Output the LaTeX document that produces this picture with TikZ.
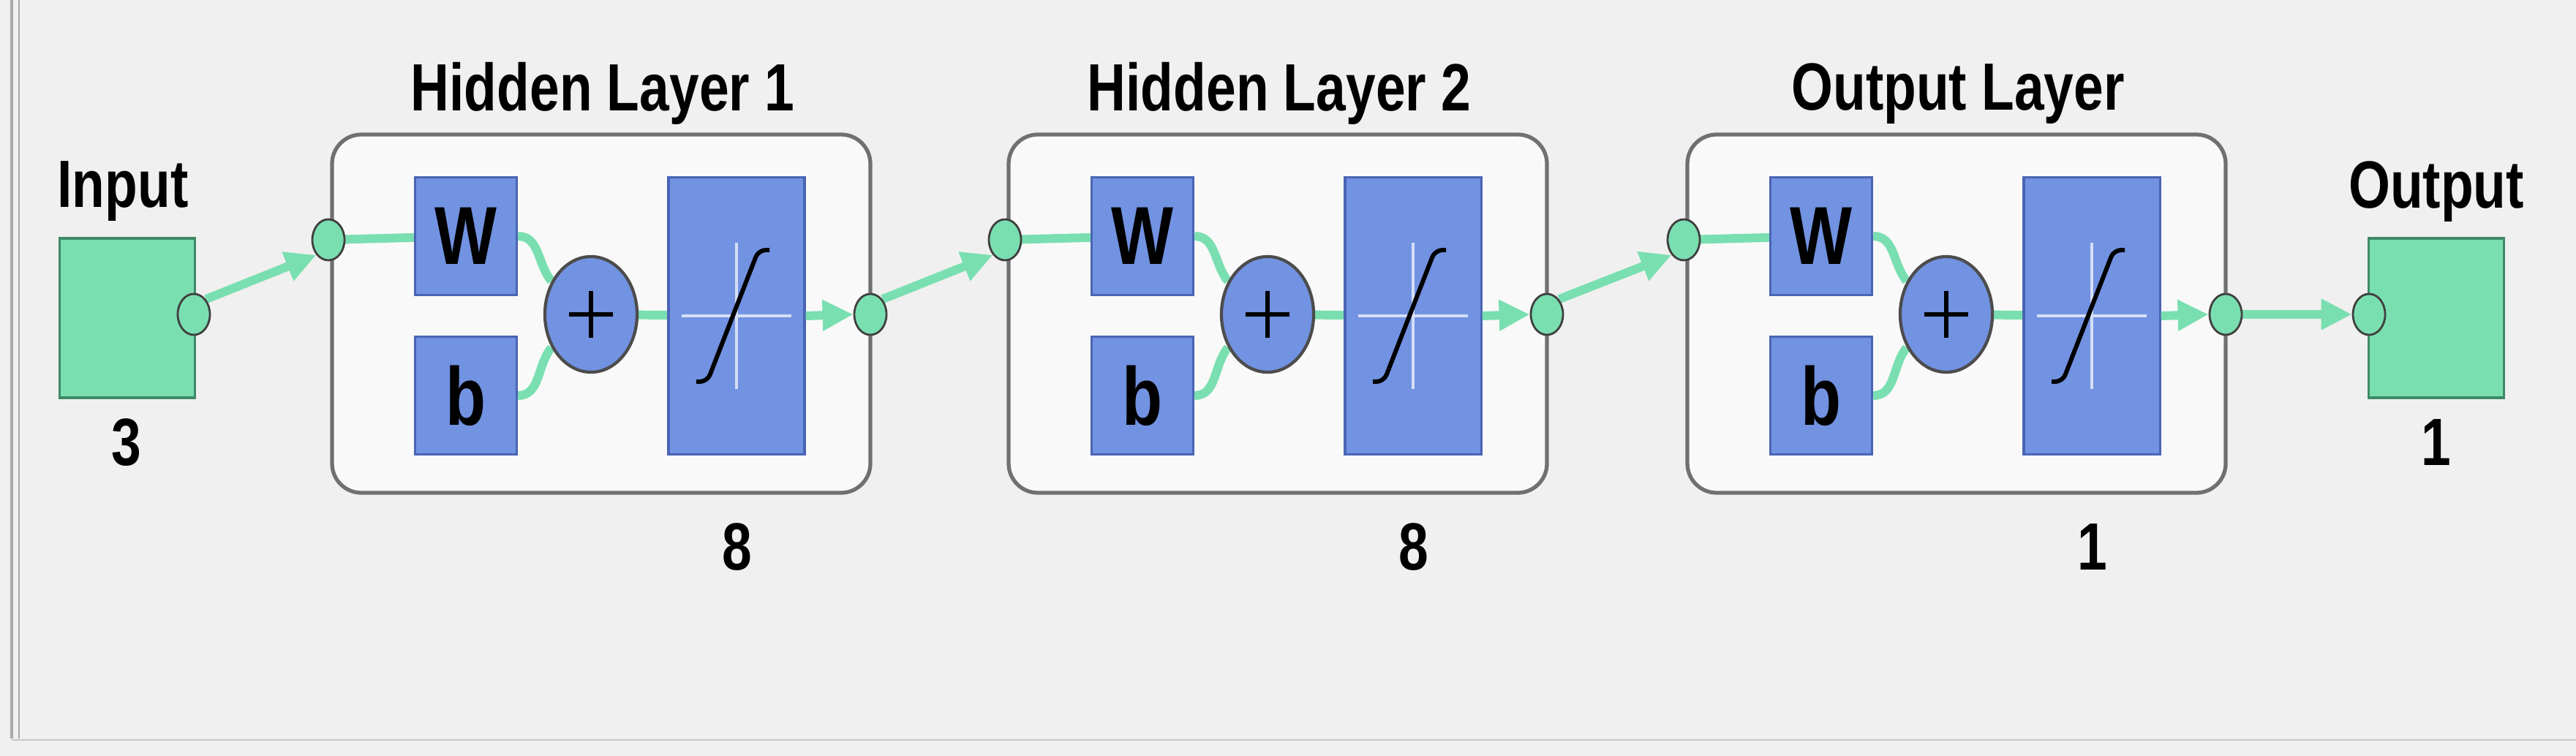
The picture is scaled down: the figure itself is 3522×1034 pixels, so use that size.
\documentclass[tikz,border=0pt]{standalone}
\usepackage{fontspec}
\newfontfamily\lbl{Liberation Sans}[FakeStretch=0.8]
\usetikzlibrary{arrows.meta,shapes.geometric,backgrounds}
\definecolor{bg}{HTML}{F0F0F0}
\definecolor{gfill}{HTML}{7ADFB0}
\definecolor{gdark}{HTML}{3E8A66}
\definecolor{bfill}{HTML}{7292E2}
\definecolor{bdark}{HTML}{4A64B4}
\definecolor{frame}{HTML}{707070}
\begin{document}
\begin{tikzpicture}[x=0.01cm,y=-0.01cm,
  txt/.style={font=\lbl\fontsize{26}{30}\selectfont\bfseries,text=black,inner sep=0},
  blk/.style={draw=bdark,line width=0.9pt,fill=bfill,inner sep=0},
  junc/.style={ellipse,draw=black!75,line width=0.8pt,fill=gfill,minimum width=0.44cm,minimum height=0.56cm,inner sep=0},
  wire/.style={draw=gfill,line width=3.4pt},
  arr/.style={wire,-{Triangle[length=0.42cm,width=0.4cm,fill=gfill]}},
  lay/.style={draw=frame,line width=1.5pt,rounded corners=0.4cm,fill=white!60!bg}]
\useasboundingbox (0,0) rectangle (3522,1034);
\begin{scope}[on background layer]
\fill[bg] (0,0) rectangle (3522,1034);
\draw[frame!60,line width=1pt] (16,0) -- (16,1010);
\draw[frame!60,line width=0.6pt] (26,0) -- (26,1010);
\draw[frame!40,line width=0.6pt] (16,1012) -- (3522,1012);
\foreach \dx in {0,925,1853}{\draw[lay,xshift=\dx*0.01cm] (454,184) rectangle (1190,674);}
\end{scope}
% input / output
\node[draw=gdark,line width=0.9pt,fill=gfill,minimum width=1.85cm,minimum height=2.18cm,inner sep=0] (inbox) at (174,435) {};
\node[txt] (inlbl) at (168,262) {Input};
\node[txt] (in3) at (173,605) {3};
\node[junc] (inc) at (265,430) {};
\node[draw=gdark,line width=0.9pt,fill=gfill,minimum width=1.85cm,minimum height=2.18cm,inner sep=0] (outbox) at (3331,435) {};
\node[txt] (outlbl) at (3331,262) {Output};
\node[txt] (out1) at (3331,605) {1};
\node[junc] (outc) at (3239,430) {};
\foreach \i/\dx/\t/\n in {1/0/Hidden Layer 1/8,2/925/Hidden Layer 2/8,3/1853/Output Layer/1}{
  \begin{scope}[xshift=\dx*0.01cm]
  \node[txt] (t\i) at (824,128) {\t};
  \node[txt] (n\i) at (1008,748) {\n};
  \node[blk,minimum width=1.39cm,minimum height=1.61cm] (W\i) at (637,323) {\lbl\fontsize{32}{36}\selectfont\bfseries W};
  \node[blk,minimum width=1.39cm,minimum height=1.61cm] (b\i) at (637,541) {\lbl\fontsize{32}{36}\selectfont\bfseries b};
  \node[blk,ellipse,minimum width=1.26cm,minimum height=1.58cm,line width=1.2pt,draw=black!70] (p\i) at (808,430) {};
  \draw[line width=1.7pt] (p\i.center) ++(-30,0) -- ++(60,0) (p\i.center) ++(0,-32) -- ++(0,64);
  \node[blk,minimum width=1.86cm,minimum height=3.79cm] (s\i) at (1007,432) {};
  \draw[white!70!bfill,line width=0.9pt] (s\i.center) ++(-75,0) -- ++(150,0) (s\i.center) ++(0,-100) -- ++(0,200);
  \draw[line width=1.7pt,rounded corners=0.1cm] (s\i.center) ++(-55,90) -- ++(15,0) -- ++(70,-180) -- ++(15,0);
  \node[junc] (ji\i) at (449,328) {};
  \node[junc] (jo\i) at (1190,430) {};
  \end{scope}
  \begin{scope}[on background layer]
  \draw[wire] (ji\i.center) -- (W\i.center);
  \draw[wire] (W\i.east) to[out=0,in=130] (p\i.140);
  \draw[wire] (b\i.east) to[out=0,in=-130] (p\i.-140);
  \draw[wire] (p\i.center) -- (s\i.center);
  \end{scope}
  \draw[arr] (s\i.east) -- (jo\i.west);
}
\begin{scope}[on background layer]
\draw[arr] (inc.north east) -- (ji1.south west);
\draw[arr] (jo1.north east) -- (ji2.south west);
\draw[arr] (jo2.north east) -- (ji3.south west);
\draw[arr] (jo3.east) -- (outc.west);
\end{scope}
\end{tikzpicture}
\end{document}
